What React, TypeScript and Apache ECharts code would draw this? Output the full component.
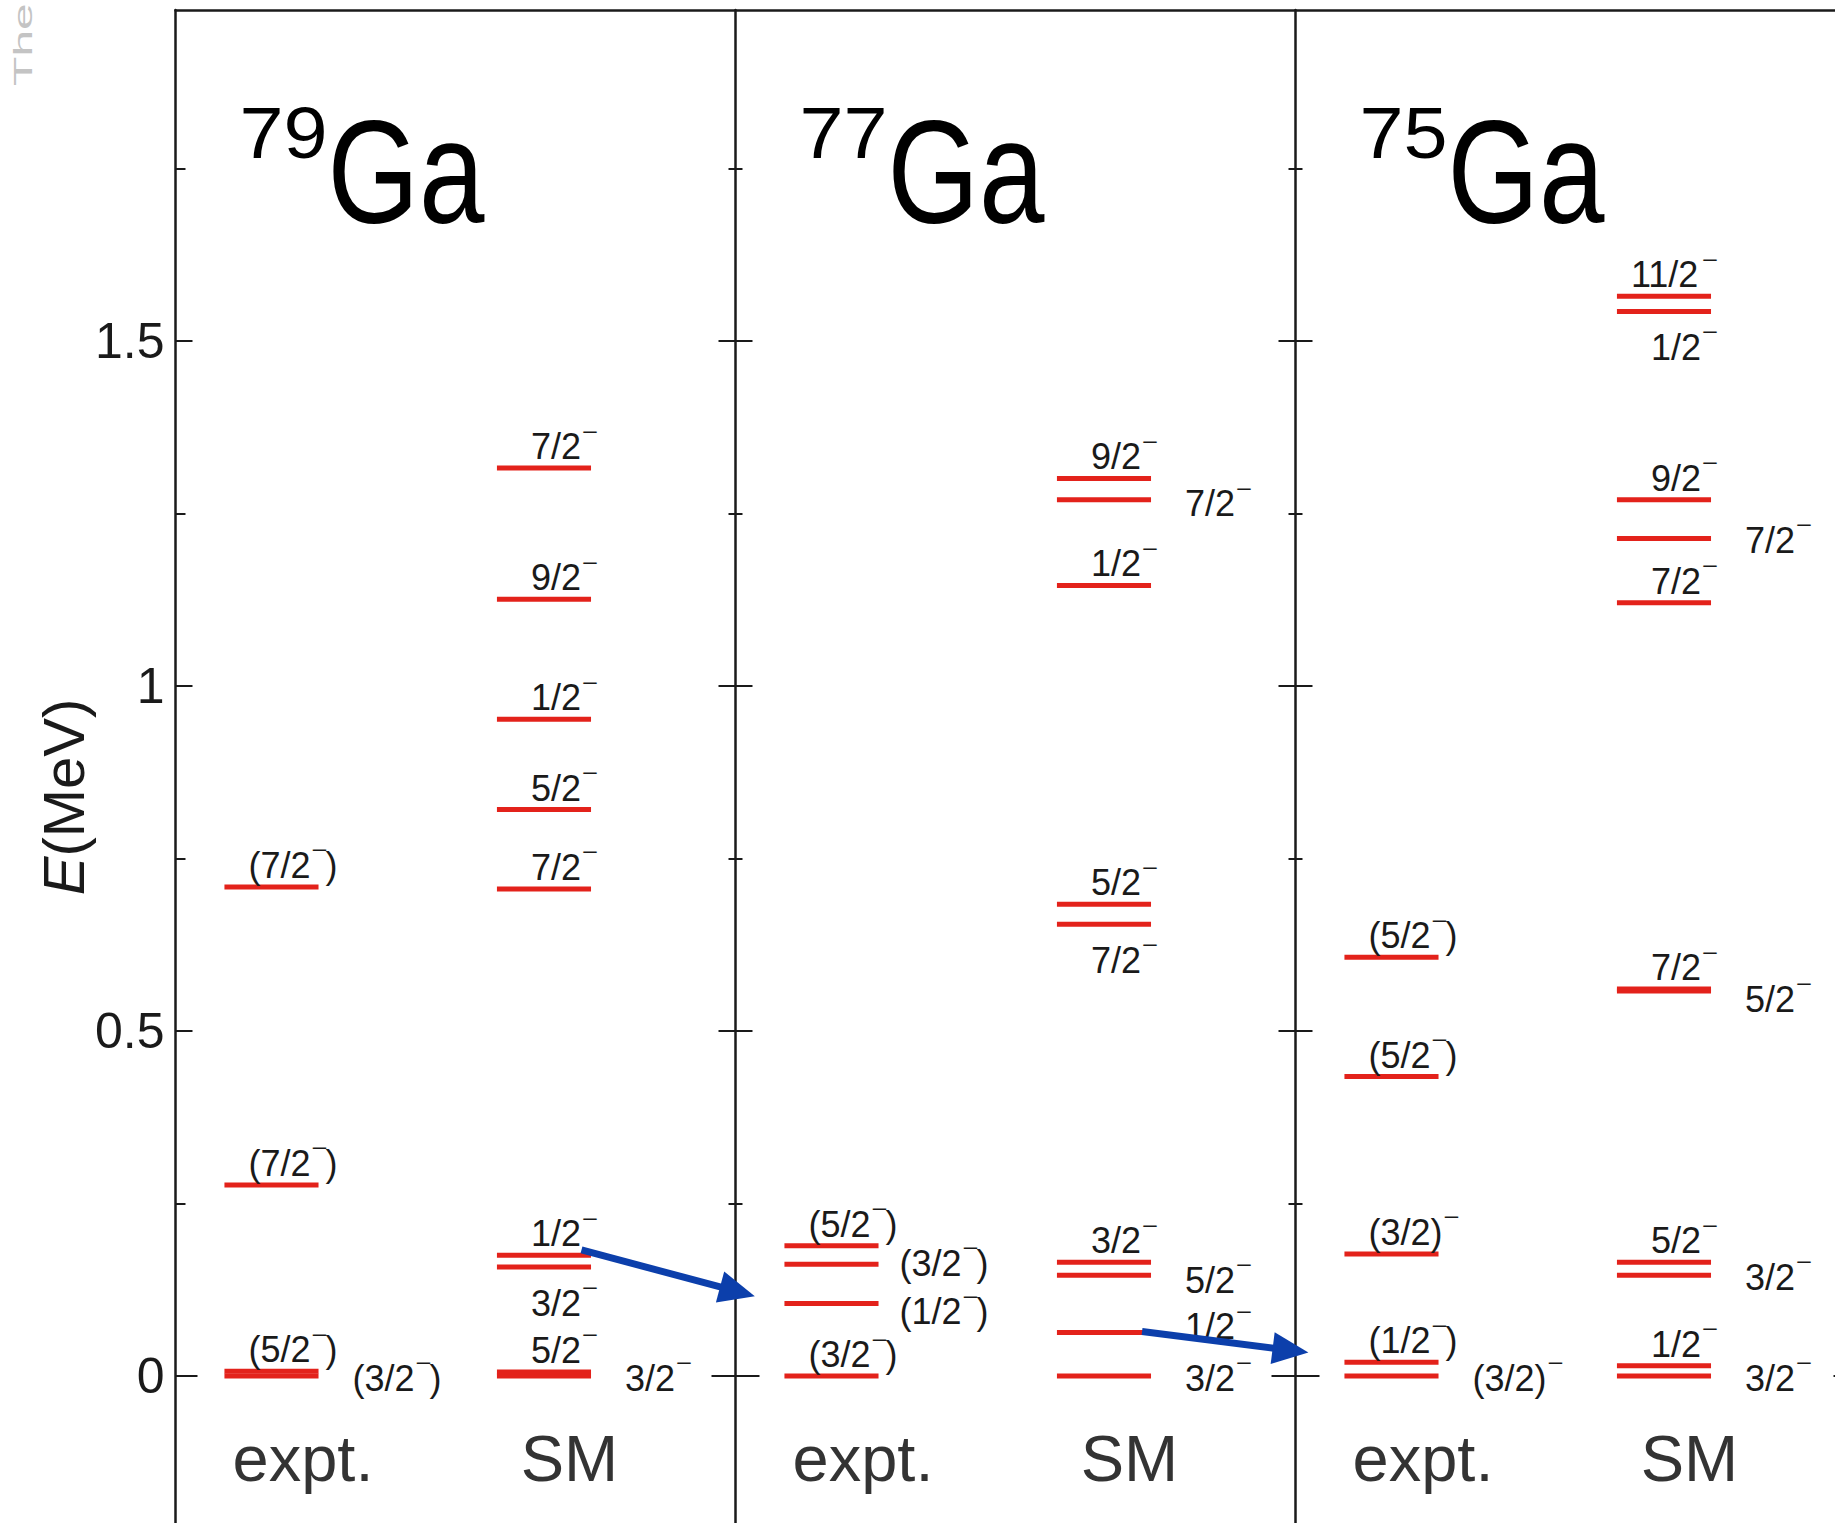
import React, { useEffect, useRef } from 'react';
import * as echarts from 'echarts';

// ---------------- data ----------------
const NUCLEI = ['79', '77', '75'];
const ELEMENT = 'Ga';
const COLUMNS = ['expt.', 'SM'];

// [energy (MeV), J^pi label, label side (a = above, b = below, r = right), dy px, dx px]
type Level = [number, string, string, number?, number?];

const GA79_EXPT: Level[] = [
  [0, '(3/2⁻)', 'r'],
  [0.007, '(5/2⁻)', 'a'],
  [0.277, '(7/2⁻)', 'a'],
  [0.709, '(7/2⁻)', 'a'],
];
const GA79_SM: Level[] = [
  [0, '3/2⁻', 'r'],
  [0.006, '5/2⁻', 'a'],
  [0.158, '3/2⁻', 'b'],
  [0.175, '1/2⁻', 'a'],
  [0.706, '7/2⁻', 'a'],
  [0.821, '5/2⁻', 'a'],
  [0.952, '1/2⁻', 'a'],
  [1.126, '9/2⁻', 'a'],
  [1.316, '7/2⁻', 'a'],
];
const GA77_EXPT: Level[] = [
  [0, '(3/2⁻)', 'a'],
  [0.105, '(1/2⁻)', 'r', 8, 21],
  [0.162, '(3/2⁻)', 'r', -1, 21],
  [0.189, '(5/2⁻)', 'a'],
];
const GA77_SM: Level[] = [
  [0, '3/2⁻', 'r'],
  [0.063, '1/2⁻', 'r', -6],
  [0.146, '5/2⁻', 'r', 5],
  [0.165, '3/2⁻', 'a'],
  [0.655, '7/2⁻', 'b'],
  [0.684, '5/2⁻', 'a'],
  [1.146, '1/2⁻', 'a'],
  [1.27, '7/2⁻', 'r', 4],
  [1.301, '9/2⁻', 'a'],
];
const GA75_EXPT: Level[] = [
  [0, '(3/2)⁻', 'r'],
  [0.02, '(1/2⁻)', 'a'],
  [0.177, '(3/2)⁻', 'a'],
  [0.434, '(5/2⁻)', 'a'],
  [0.607, '(5/2⁻)', 'a'],
];
const GA75_SM: Level[] = [
  [0, '3/2⁻', 'r'],
  [0.015, '1/2⁻', 'a'],
  [0.146, '3/2⁻', 'r'],
  [0.165, '5/2⁻', 'a'],
  [0.558, '5/2⁻', 'r', 8],
  [0.561, '7/2⁻', 'a'],
  [1.121, '7/2⁻', 'a'],
  [1.214, '7/2⁻', 'r'],
  [1.27, '9/2⁻', 'a'],
  [1.543, '1/2⁻', 'b'],
  [1.565, '11/2⁻', 'a'],
];
const PANEL_LEVELS: Level[][][] = [
  [GA79_EXPT, GA79_SM],
  [GA77_EXPT, GA77_SM],
  [GA75_EXPT, GA75_SM],
];

// arrows: [from [x, E], to [x, E]] (x in panel units)
const ARROWS: number[][][] = [
  [[0.725, 0.183], [1.0345, 0.1156]],
  [[1.726, 0.0646], [2.023, 0.034]],
];

const Y_MIN = -0.213;
const Y_MAX = 1.98;
const Y_TICK_LABELS = [0, 0.5, 1, 1.5];
const ZERO_TICK = [0];
const MAJOR_TICKS = [0.5, 1, 1.5];
const MINOR_TICKS = [0.25, 0.75, 1.25, 1.75];

// ---------------- layout / style ----------------
const W = 1835;
const H = 1523;
const GRID_LEFT = 175.5;
const GRID_TOP = 10;
const PANEL_PX = 560;
const X_MAX = (W - GRID_LEFT) / PANEL_PX;
const COLUMN_CENTERS = [0.1714, 0.658];
const LEVEL_HALF = 0.084;
const COLUMN_LABEL_X = [0.2277, 0.7036];
const COLUMN_LABEL_E = -0.12;
const TITLE_X = 0.1143;
const TITLE_E = 1.746;

const FONT = "'Liberation Sans', Arial, Helvetica, 'DejaVu Sans', sans-serif";
const RED = '#e3221b';
const BLUE = '#0c3fab';
const INK = '#1a1a1a';
const LABEL_FS = 36;
const SUP_FS = 34;
const SUP_ADV = 15;
const SUP_RAISE = 10;

// Arial / Liberation Sans advance widths (em)
const CH_W: Record<string, number> = { '(': 0.333, ')': 0.333, '/': 0.278 };
const textW = (s: string) => Array.from(s).reduce((a, ch) => a + (CH_W[ch] ?? 0.556), 0) * LABEL_FS;

const LEVELS = [] as { x: number; e: number; j: string; side: string; dy?: number; dx?: number }[];
PANEL_LEVELS.forEach((cols, p) =>
  cols.forEach((lv, c) =>
    lv.forEach(([e, j, side, dy, dx]) =>
      LEVELS.push({ x: p + COLUMN_CENTERS[c], e, j, side, dy, dx })
    )
  )
);

function tickAxis(
  position: string,
  offset: number,
  values: number[],
  length: number,
  inside: boolean,
  showLine: boolean,
  labels = false
) {
  return {
    type: 'value',
    min: Y_MIN,
    max: Y_MAX,
    position,
    offset,
    axisLine: { show: showLine, onZero: false, lineStyle: { color: INK, width: 2.5 } },
    axisTick: { show: true, inside, length, customValues: values, lineStyle: { color: INK, width: 2 } },
    axisLabel: labels
      ? {
          show: true,
          customValues: Y_TICK_LABELS,
          formatter: (v: number) => String(v),
          fontSize: 50,
          fontFamily: FONT,
          color: INK,
          margin: 11,
        }
      : { show: false },
    splitLine: { show: false },
  };
}

function buildYAxes() {
  const axes: any[] = [
    tickAxis('left', 0, ZERO_TICK, 22, true, true, true),
    tickAxis('left', 0, MAJOR_TICKS, 17, true, false),
    tickAxis('left', 0, MINOR_TICKS, 10, true, false),
  ];
  [1, 2].forEach((k) => {
    const off = -k * PANEL_PX;
    axes.push(tickAxis('left', off, ZERO_TICK, 24, true, true));
    axes.push(tickAxis('left', off, ZERO_TICK, 24, false, false));
    axes.push(tickAxis('left', off, MAJOR_TICKS, 17, true, false));
    axes.push(tickAxis('left', off, MAJOR_TICKS, 17, false, false));
    axes.push(tickAxis('left', off, MINOR_TICKS, 7, true, false));
    axes.push(tickAxis('left', off, MINOR_TICKS, 7, false, false));
  });
  // right border of the third panel (just off the page): ticks point left
  const offR = -3 * PANEL_PX;
  axes.push(tickAxis('left', offR, ZERO_TICK, 22, false, true));
  axes.push(tickAxis('left', offR, MAJOR_TICKS, 17, false, false));
  axes.push(tickAxis('left', offR, MINOR_TICKS, 10, false, false));
  return axes;
}

function labelText(text: string, x: number, y: number, size: number) {
  return {
    type: 'text',
    x,
    y,
    style: { text, fill: INK, fontFamily: FONT, fontSize: size, align: 'left', verticalAlign: 'middle' },
  };
}

function buildOption(): any {
  const levelSeries = {
    type: 'custom',
    coordinateSystem: 'cartesian2d',
    clip: false,
    data: LEVELS.map((l) => [l.x, l.e]),
    renderItem: (params: any, api: any) => {
      const L = LEVELS[params.dataIndex];
      const p0 = api.coord([L.x - LEVEL_HALF, L.e]);
      const p1 = api.coord([L.x + LEVEL_HALF, L.e]);
      const y = p0[1];
      const parts = L.j.split('⁻');
      const pre = parts[0];
      const post = parts[1] ?? '';
      const total = textW(pre) + SUP_ADV + textW(post);
      let x0: number, ty: number;
      if (L.side === 'r') {
        x0 = p1[0] + (L.dx ?? 34);
        ty = y + (L.dy ?? 2);
      } else {
        x0 = p1[0] + (L.j.startsWith('(') ? 19 : 5) - total;
        ty = L.side === 'a' ? y - 21.5 + (L.dy ?? 0) : y + 36 + (L.dy ?? 0);
      }
      const children: any[] = [
        {
          type: 'line',
          shape: { x1: p0[0], y1: y, x2: p1[0], y2: y },
          style: { stroke: RED, lineWidth: 5 },
        },
        labelText(pre, x0, ty, LABEL_FS),
        labelText('⁻', x0 + textW(pre), ty - SUP_RAISE, SUP_FS),
      ];
      if (post) children.push(labelText(post, x0 + textW(pre) + SUP_ADV, ty, LABEL_FS));
      return { type: 'group', children };
    },
  };

  const arrowSeries = {
    type: 'custom',
    coordinateSystem: 'cartesian2d',
    clip: false,
    z: 5,
    data: ARROWS.map((a) => [a[0][0], a[0][1]]),
    renderItem: (params: any, api: any) => {
      const [a, b] = ARROWS[params.dataIndex];
      const p = api.coord(a);
      const q = api.coord(b);
      const dx = q[0] - p[0];
      const dy = q[1] - p[1];
      const len = Math.hypot(dx, dy);
      const ux = dx / len;
      const uy = dy / len;
      const HL = 36;
      const HW = 16;
      const bx = q[0] - ux * HL;
      const by = q[1] - uy * HL;
      return {
        type: 'group',
        children: [
          {
            type: 'line',
            shape: { x1: p[0], y1: p[1], x2: bx + ux * 3, y2: by + uy * 3 },
            style: { stroke: BLUE, lineWidth: 7 },
          },
          {
            type: 'polygon',
            shape: {
              points: [
                [q[0], q[1]],
                [bx - uy * HW, by + ux * HW],
                [bx + uy * HW, by - ux * HW],
              ],
            },
            style: { fill: BLUE },
          },
        ],
      };
    },
  };

  const titleSeries = {
    type: 'custom',
    coordinateSystem: 'cartesian2d',
    clip: false,
    silent: true,
    data: NUCLEI.map((_, p) => [p + TITLE_X, TITLE_E]),
    renderItem: (params: any, api: any) => {
      const c = api.coord([params.dataIndex + TITLE_X, TITLE_E]);
      return {
        type: 'group',
        children: [
          {
            type: 'text',
            x: c[0],
            y: c[1] - 39,
            scaleX: 1.1,
            style: {
              text: NUCLEI[params.dataIndex],
              fontSize: 72,
              fontFamily: FONT,
              fill: '#000',
              align: 'left',
              verticalAlign: 'middle',
            },
          },
          {
            type: 'text',
            x: c[0] + 88,
            y: c[1],
            scaleX: 0.8,
            style: {
              text: ELEMENT,
              fontSize: 147,
              fontFamily: FONT,
              fill: '#000',
              align: 'left',
              verticalAlign: 'middle',
            },
          },
        ],
      };
    },
  };

  const colData: any[] = [];
  NUCLEI.forEach((_, p) =>
    COLUMNS.forEach((c, k) => colData.push({ value: [p + COLUMN_LABEL_X[k], COLUMN_LABEL_E], name: c }))
  );
  const columnSeries = {
    type: 'scatter',
    symbolSize: 0,
    silent: true,
    data: colData,
    label: {
      show: true,
      position: [0, 0],
      align: 'center',
      verticalAlign: 'middle',
      formatter: (d: any) => d.name,
      fontSize: 65,
      fontFamily: FONT,
      color: '#000',
    },
  };

  return {
    animation: false,
    backgroundColor: '#ffffff',
    grid: {
      left: GRID_LEFT,
      top: GRID_TOP,
      right: 0,
      bottom: 0,
      containLabel: false,
    },
    xAxis: {
      type: 'value',
      min: 0,
      max: X_MAX,
      position: 'top',
      axisLine: { show: true, onZero: false, lineStyle: { color: INK, width: 2.5 } },
      axisTick: { show: false },
      axisLabel: { show: false },
      splitLine: { show: false },
    },
    yAxis: buildYAxes(),
    graphic: [
      {
        type: 'text',
        x: 63,
        y: 797,
        rotation: Math.PI / 2,
        style: {
          text: '{i|E}{n|(MeV)}',
          align: 'center',
          verticalAlign: 'middle',
          fill: INK,
          fontFamily: FONT,
          fontSize: 58,
          rich: {
            i: { fontSize: 58, fontStyle: 'italic', fontFamily: FONT, fill: INK },
            n: { fontSize: 58, fontFamily: FONT, fill: INK },
          },
        },
      },
      {
        type: 'text',
        x: 23,
        y: 86,
        rotation: Math.PI / 2,
        scaleX: 1.85,
        style: {
          text: 'The',
          align: 'left',
          verticalAlign: 'middle',
          fill: '#c4c4c4',
          fontFamily: FONT,
          fontSize: 26,
        },
      },
    ],
    series: [levelSeries, arrowSeries, titleSeries, columnSeries],
  };
}

export default function App() {
  const ref = useRef<HTMLDivElement>(null);
  useEffect(() => {
    if (!ref.current) return;
    const chart = echarts.init(ref.current, null, { renderer: 'svg' });
    chart.setOption(buildOption());
    return () => chart.dispose();
  }, []);
  return (
    <div
      ref={ref}
      style={{ position: 'fixed', left: 0, top: 0, width: W, height: H, background: '#fff' }}
    />
  );
}
